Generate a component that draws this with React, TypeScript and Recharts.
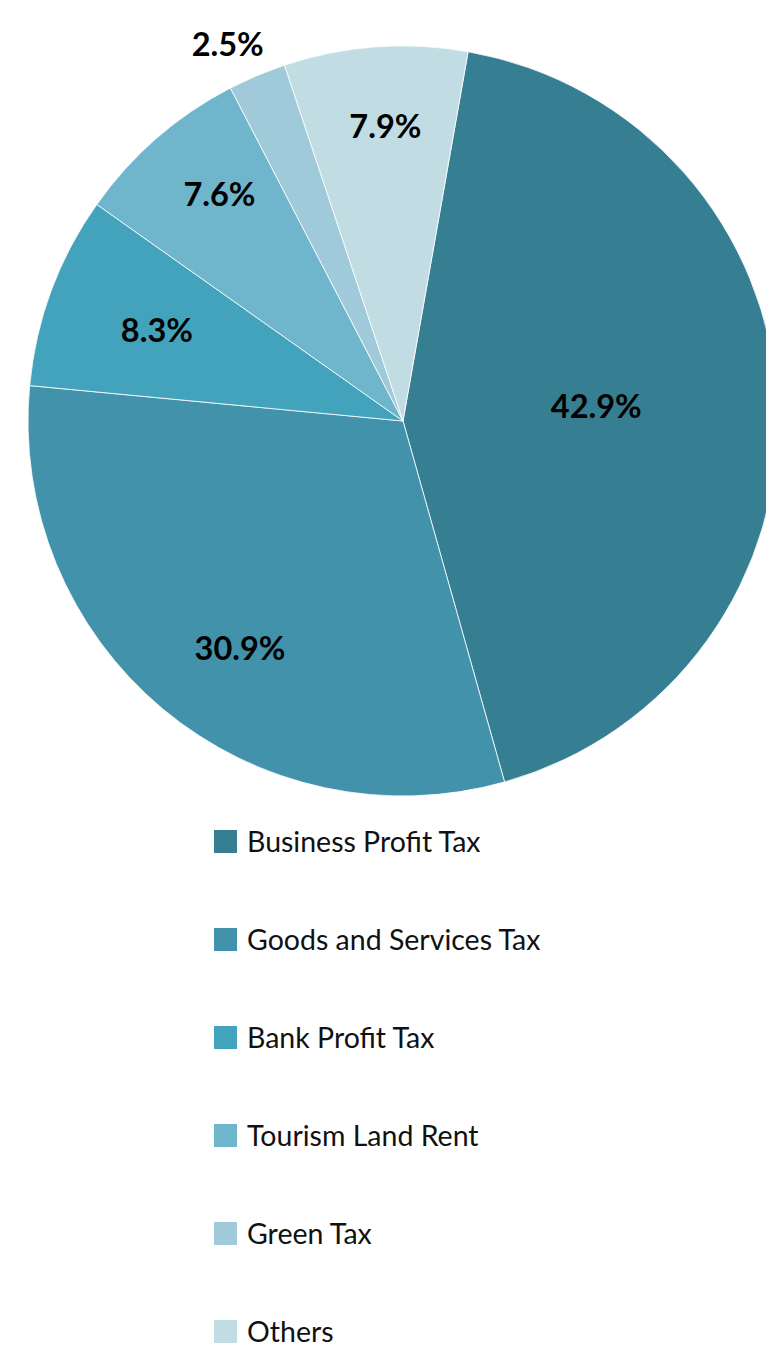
import React from "react";
import { PieChart, Pie, Cell, Legend } from "recharts";

const categories = [
  "Business Profit Tax",
  "Goods and Services Tax",
  "Bank Profit Tax",
  "Tourism Land Rent",
  "Green Tax",
  "Others",
];
const shares = [42.9, 30.9, 8.3, 7.6, 2.5, 7.9];
const colors = ["#367e91", "#4192aa", "#44a3bc", "#6fb5cb", "#a0cad9", "#c2dce4"];
const labelRadiusFactor = [0.517, 0.744, 0.7, 0.78, 1.11, 0.79];
const labelAngleOffset = [1.8, 4.1, 0, -2.2, 2, -0.8];

const data = categories.map((name, i) => ({ name, value: shares[i] }));

const RAD = Math.PI / 180;
const FONT = "Lato, 'Noto Sans', sans-serif";

const renderLabel = (props: any) => {
  const { cx, cy, midAngle, outerRadius, index, value } = props;
  const r = outerRadius * labelRadiusFactor[index];
  const a = midAngle + labelAngleOffset[index];
  const x = cx + r * Math.cos(-a * RAD);
  const y = cy + r * Math.sin(-a * RAD);
  return (
    <text
      x={x}
      y={y}
      textAnchor="middle"
      dominantBaseline="central"
      fontFamily={FONT}
      fontWeight={700}
      fontSize={32.5}
      fill="#000"
    >
      {`${Number(value).toFixed(1)}%`}
    </text>
  );
};

const renderLegend = () => (
  <div style={{ position: "relative", width: 766, fontFamily: FONT }}>
    {categories.map((c, i) => (
      <div
        key={c}
        style={{
          position: "absolute",
          left: 214,
          top: i * 98,
          height: 24,
          display: "flex",
          alignItems: "center",
          whiteSpace: "nowrap",
        }}
      >
        <span
          style={{
            display: "inline-block",
            width: 23,
            height: 23,
            background: colors[i],
            marginRight: 10,
          }}
        />
        <span style={{ fontSize: 28.5, color: "#111", lineHeight: "24px" }}>{c}</span>
      </div>
    ))}
  </div>
);

export default function App() {
  return (
    <div style={{ position: "absolute", left: 0, top: 0, width: 766, height: 1348, background: "#fff", overflow: "hidden" }}>
      <PieChart width={766} height={1348} margin={{ top: 0, right: 0, bottom: 0, left: 0 }}>
        <Pie
          data={data}
          dataKey="value"
          nameKey="name"
          cx={403}
          cy={421}
          outerRadius={375}
          startAngle={80}
          endAngle={-280}
          stroke="#ffffff"
          strokeWidth={0.8}
          label={renderLabel}
          labelLine={false}
          isAnimationActive={false}
        >
          {data.map((d, i) => (
            <Cell key={d.name} fill={colors[i]} />
          ))}
        </Pie>
        <Legend
          verticalAlign="bottom"
          layout="horizontal"
          content={renderLegend}
          wrapperStyle={{ position: "absolute", top: 829, left: 0, width: 766, height: 520 }}
        />
      </PieChart>
    </div>
  );
}
